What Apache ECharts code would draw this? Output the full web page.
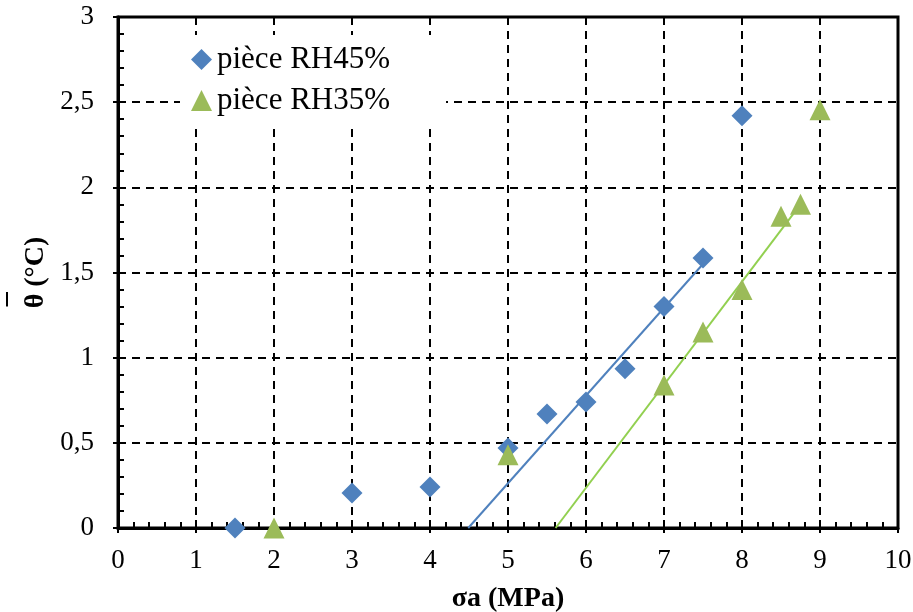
<!DOCTYPE html>
<html><head><meta charset="utf-8">
<script src="https://cdn.jsdelivr.net/npm/echarts@6/dist/echarts.min.js"></script>
<style>html,body{margin:0;padding:0;background:#fff}#c{width:913px;height:612px}</style>
</head><body><div id="c"></div>
<script>
const rh45X = [1.5, 3, 4, 5, 5.5, 6, 6.5, 7, 7.5, 8];
const rh45Y = [0, 0.205, 0.24, 0.47, 0.67, 0.74, 0.935, 1.3, 1.585, 2.42];
const rh35X = [2, 5, 7, 7.5, 8, 8.5, 8.75, 9];
const rh35Y = [0, 0.43, 0.84, 1.15, 1.40, 1.83, 1.90, 2.455];
const trend45X = [4.49, 7.5];
const trend45Y = [0, 1.55];
const trend35X = [5.61, 8.75];
const trend35Y = [0, 1.90];
const seriesNames = ['pièce RH45%', 'pièce RH35%'];
const xTitle = 'σa (MPa)';
const yTitle = 'θ (°C)';

const zip = (xs, ys) => xs.map((x, i) => [x, ys[i]]);
const font = '"Liberation Serif", "Times New Roman", serif';
const chart = echarts.init(document.getElementById('c'), null, {renderer: 'canvas'});
const dash = {type: [8, 6], width: 2, color: '#000'};
const fmtY = v => String(v).replace('.', ',');
chart.setOption({
  animation: false,
  backgroundColor: '#fff',
  grid: {left: 118, right: 15, top: 17, bottom: 84, containLabel: false, outerBoundsMode: 'none',
    show: true, borderColor: '#000', borderWidth: 3, backgroundColor: 'transparent'},
  legend: {
    data: [{name: seriesNames[0], icon: 'diamond'}, {name: seriesNames[1], icon: 'triangle'}],
    orient: 'vertical', left: 180, top: 35, itemWidth: 21, itemHeight: 21, itemGap: 10,
    backgroundColor: '#fff', padding: [9, 56, 10, 11],
    textStyle: {fontFamily: font, fontSize: 31, color: '#000'}
  },
  xAxis: [{
    type: 'value', min: 0, max: 10, interval: 1,
    axisLine: {show: true, onZero: false, lineStyle: {color: '#000', width: 3}},
    axisTick: {show: true, inside: true, length: 8, lineStyle: {color: '#000', width: 2}},
    minorTick: {show: true, splitNumber: 5, length: 6, lineStyle: {color: '#000', width: 2}},
    splitLine: {show: true, lineStyle: dash},
    axisLabel: {fontFamily: font, fontSize: 27, color: '#000', margin: 19},
    name: xTitle, nameLocation: 'middle', nameGap: 57,
    nameTextStyle: {fontFamily: font, fontSize: 28, fontWeight: 'bold', color: '#000'}
  }, {
    type: 'value', min: 0, max: 10, interval: 1, position: 'bottom',
    axisLine: {show: false}, axisTick: {show: true, inside: false, length: 5, lineStyle: {color: '#000', width: 2}},
    axisLabel: {show: false}, splitLine: {show: false}
  }],
  yAxis: [{
    type: 'value', min: 0, max: 3, interval: 0.5,
    axisLine: {show: true, onZero: false, lineStyle: {color: '#000', width: 3}},
    axisTick: {show: true, inside: true, length: 8, lineStyle: {color: '#000', width: 2}},
    minorTick: {show: true, splitNumber: 5, length: 6, lineStyle: {color: '#000', width: 2}},
    splitLine: {show: true, lineStyle: dash},
    axisLabel: {fontFamily: font, fontSize: 27, color: '#000', margin: 24, formatter: fmtY},
    name: '{bar|¯}\n{t|' + yTitle + '}', nameLocation: 'middle', nameGap: 64, nameRotate: 90,
    nameTextStyle: {
      fontFamily: font, fontSize: 28, fontWeight: 'bold', color: '#000',
      rich: {
        bar: {fontFamily: font, fontSize: 28, fontWeight: 'bold', color: '#000', align: 'left', lineHeight: 2, padding: [0, 0, 0, 2]},
        t: {fontFamily: font, fontSize: 28, fontWeight: 'bold', color: '#000', lineHeight: 30}
      }
    }
  }, {
    type: 'value', min: 0, max: 3, interval: 0.5, position: 'left',
    axisLine: {show: false}, axisTick: {show: true, inside: false, length: 5, lineStyle: {color: '#000', width: 2}},
    axisLabel: {show: false}, splitLine: {show: false}
  }],
  series: [
    {name: 'trend45', type: 'line', data: zip(trend45X, trend45Y), symbol: 'none', lineStyle: {color: '#4F81BD', width: 2}, z: 3},
    {name: 'trend35', type: 'line', data: zip(trend35X, trend35Y), symbol: 'none', lineStyle: {color: '#92D050', width: 2}, z: 3},
    {name: seriesNames[0], type: 'scatter', symbol: 'diamond', symbolSize: 21, data: zip(rh45X, rh45Y), itemStyle: {color: '#4F81BD', opacity: 1}, z: 4},
    {name: seriesNames[1], type: 'scatter', symbol: 'triangle', symbolSize: 21, data: zip(rh35X, rh35Y), itemStyle: {color: '#9BBB59', opacity: 1}, z: 4}
  ]
});
</script></body></html>
